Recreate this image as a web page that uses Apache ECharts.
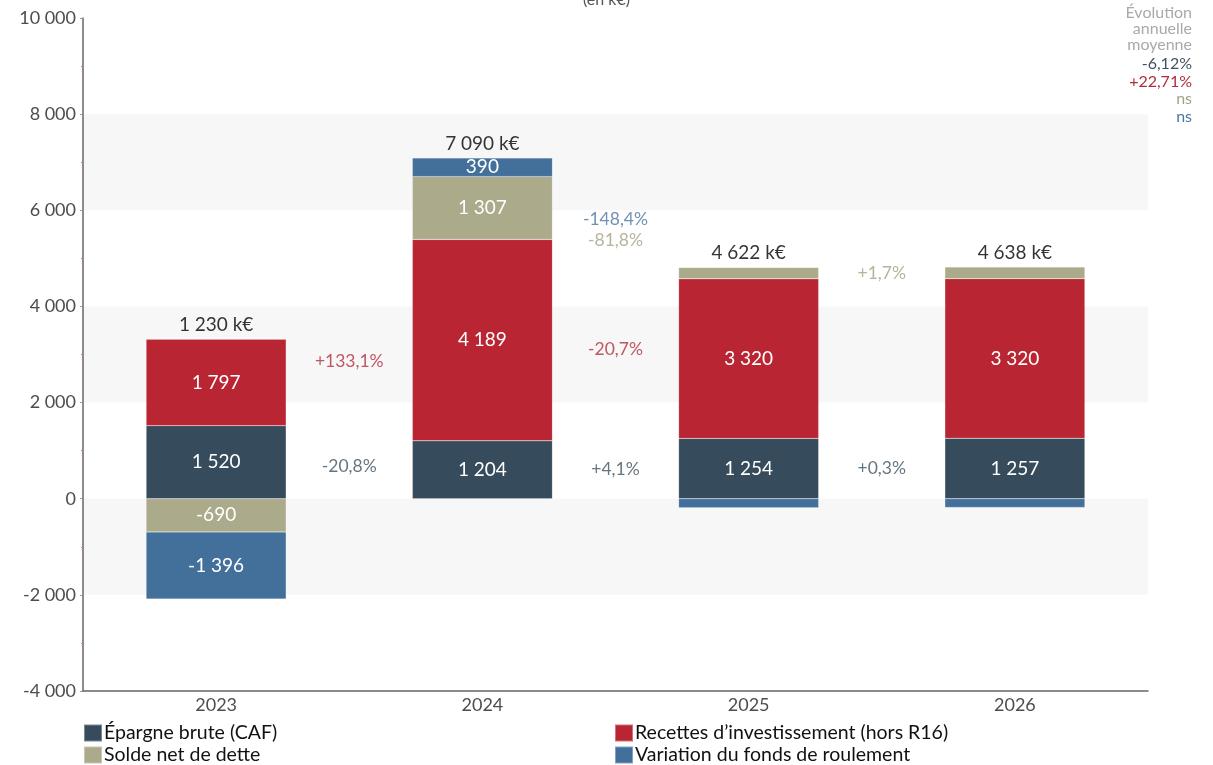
<!DOCTYPE html>
<html>
<head>
<meta charset="utf-8">
<script src="https://cdn.jsdelivr.net/npm/echarts@6/dist/echarts.min.js"></script>
<style>
html,body{margin:0;padding:0;background:#fff;}
#chart{width:1213px;height:765px;}
</style>
</head>
<body>
<div id="chart"></div>
<script>
// ---- Data ----
const years = ['2023', '2024', '2025', '2026'];
const seriesNames = ['Épargne brute (CAF)', 'Recettes d\u2019investissement (hors R16)', 'Solde net de dette', 'Variation du fonds de roulement'];
const caf = [1520, 1204, 1254, 1257];
const recettes = [1797, 4189, 3320, 3320];
const solde = [-690, 1307, 238, 242];
const variation = [-1396, 390, -189, -181];
const totals = [1230, 7090, 4622, 4638];
// year-on-year evolution between consecutive years (null = not shown)
const evoCaf = [-20.8, 4.1, 0.3];
const evoRecettes = [133.1, -20.7, null];
const evoSolde = [null, -81.8, 1.7];
const evoVariation = [null, -148.4, null];
const avgEvoTitle = ['Évolution', 'annuelle', 'moyenne'];
const avgEvo = ['-6,12%', '+22,71%', 'ns', 'ns'];
const yTicks = [-4000, -2000, 0, 2000, 4000, 6000, 8000, 10000];

const colors = ['#364b5b', '#b92532', '#abaa8b', '#43709b'];
const pctColors = ['#3f5262', '#b02d3a', '#a3a283', '#4b75a0'];
const FONT = 'Lato, "Noto Sans", sans-serif';

const all = [caf, recettes, solde, variation];
const evos = [evoCaf, evoRecettes, evoSolde, evoVariation];

function fmtNum(n) {
  const s = Math.abs(Math.round(n)).toString().replace(/\B(?=(\d{3})+(?!\d))/g, ' ');
  return (n < 0 ? '-' : '') + s;
}
function fmtPct(v) {
  return (v > 0 ? '+' : '') + v.toFixed(1).replace('.', ',') + '%';
}
// cumulative midpoint of a segment (signed running sum)
function cumMid(si, yi) {
  let c = 0;
  for (let k = 0; k < si; k++) c += all[k][yi];
  return c + all[si][yi] / 2;
}
function posTop(yi) {
  let t = 0;
  all.forEach(a => { if (a[yi] > 0) t += a[yi]; });
  return t;
}

const barSeries = seriesNames.map((name, si) => ({
  name: name,
  type: 'bar',
  stack: 'total',
  barWidth: '52.6%',
  data: all[si],
  itemStyle: { color: colors[si], borderColor: 'rgba(255,255,255,0.35)', borderWidth: 0.5 },
  label: {
    show: true,
    position: 'inside',
    color: '#fff',
    fontSize: 19,
    fontFamily: FONT,
    formatter: p => Math.abs(p.value) >= 300 ? fmtNum(p.value) : ''
  },
  emphasis: { disabled: true }
}));

const totalSeries = {
  type: 'scatter',
  symbolSize: 0,
  silent: true,
  data: years.map((y, i) => [y, posTop(i)]),
  label: {
    show: true,
    position: 'top',
    distance: 5,
    color: '#000',
    fontSize: 19,
    fontFamily: FONT,
    formatter: p => fmtNum(totals[p.dataIndex]) + ' k€'
  }
};

const pctSeries = seriesNames.map((name, si) => {
  const data = [];
  evos[si].forEach((v, gi) => {
    if (v === null) return;
    const y = (cumMid(si, gi) + cumMid(si, gi + 1)) / 2;
    data.push({ value: [gi + 0.5, y], txt: fmtPct(v) });
  });
  return {
    type: 'scatter',
    xAxisIndex: 1,
    symbolSize: 0,
    silent: true,
    data: data,
    label: {
      show: true,
      position: 'inside',
      color: pctColors[si],
      fontSize: 17.5,
      fontFamily: FONT,
      formatter: p => p.data.txt
    }
  };
});

const graphics = [];
avgEvoTitle.forEach((t, i) => {
  graphics.push({ type: 'text', right: 21, top: 5 + i * 16, style: { text: t, fill: '#a9a9a9', font: '16px ' + FONT, textAlign: 'right' } });
});
avgEvo.forEach((t, i) => {
  graphics.push({ type: 'text', right: 21, top: 56 + i * 17.5, style: { text: t, fill: pctColors[i], font: '16px ' + FONT, textAlign: 'right' } });
});

const legendCommon = {
  orient: 'vertical', top: 723, itemGap: 2, padding: 0,
  itemWidth: 18, itemHeight: 17, icon: 'rect',
  textStyle: { fontSize: 19.5, color: '#111', fontFamily: FONT, padding: [0, 0, 0, -3] },
  selectedMode: false
};

const chart = echarts.init(document.getElementById('chart'));
chart.setOption({
  animation: false,
  backgroundColor: '#fff',
  title: {
    text: '(en k€)',
    left: 'center',
    top: -13,
    textStyle: { fontSize: 16, fontWeight: 'normal', color: '#555', fontFamily: FONT }
  },
  grid: { left: 83, right: 65, top: 18, bottom: 74, containLabel: false },
  legend: [
    Object.assign({ data: [seriesNames[0], seriesNames[2]], left: 83 }, legendCommon),
    Object.assign({ data: [seriesNames[1], seriesNames[3]], left: 614 }, legendCommon)
  ],
  xAxis: [
    {
      type: 'category',
      data: years,
      axisLine: { onZero: false, lineStyle: { color: '#666', width: 1.5 } },
      axisTick: { alignWithLabel: true, length: 3, lineStyle: { color: '#ccc' } },
      axisLabel: { color: '#4d4d4d', fontSize: 18, fontFamily: FONT, margin: 5 }
    },
    { type: 'value', min: -0.5, max: 3.5, show: false }
  ],
  yAxis: {
    type: 'value',
    min: yTicks[0],
    max: yTicks[yTicks.length - 1],
    interval: 2000,
    axisLine: { show: true, onZero: false, lineStyle: { color: '#666', width: 1.5 } },
    axisTick: { show: true, length: 3, lineStyle: { color: '#999' } },
    minorTick: { show: true, splitNumber: 2, length: 2, lineStyle: { color: '#e0707a' } },
    axisLabel: { color: '#4d4d4d', fontSize: 18, fontFamily: FONT, margin: 7, formatter: v => fmtNum(v) },
    splitLine: { show: false },
    splitArea: { show: true, areaStyle: { color: ['rgba(255,255,255,0)', '#f7f7f7'] } }
  },
  graphic: graphics,
  series: [...barSeries, totalSeries, ...pctSeries]
});
</script>
</body>
</html>
